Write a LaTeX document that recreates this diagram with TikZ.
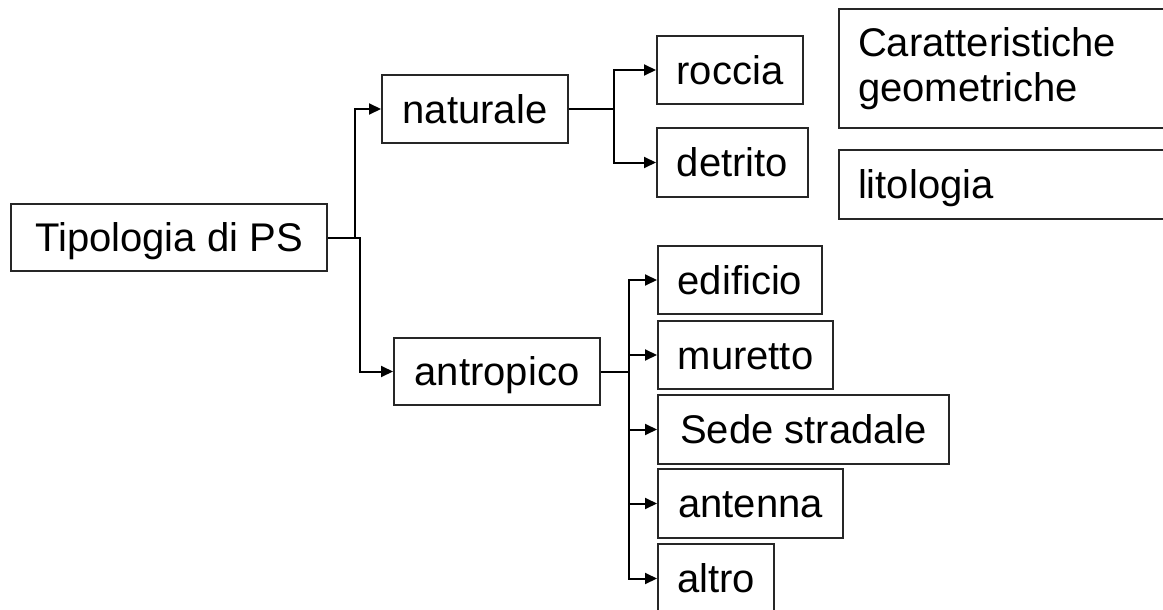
\documentclass[tikz,border=0pt]{standalone}
\usepackage{fontspec}
\setmainfont{Liberation Sans}
\usetikzlibrary{arrows.meta}
\tikzset{
  box/.style={draw=black!85, line width=2pt, fill=white, anchor=north west,
    inner sep=0pt, font=\fontsize{40}{45}\selectfont,
    text height=28.6pt, text depth=0pt},
  widebox/.style={draw=black!85, line width=2pt, fill=white, anchor=north west,
    inner xsep=19pt, inner ysep=0pt, align=left,
    font=\fontsize{40}{45}\selectfont},
  arr/.style={line width=2pt, -{Triangle[length=12pt,width=11pt]}}
}
\begin{document}
\begin{tikzpicture}[x=1pt,y=-1pt]
\fill[white] (0,0) rectangle (1163,610);
\useasboundingbox (0,0) rectangle (1163,610);
\clip (0,0) rectangle (1163,610);

\node[box, minimum width=316pt, minimum height=67pt] (T) at (10,203) {Tipologia di PS};
\node[box, minimum width=186pt, minimum height=68pt] (nat) at (381,74) {naturale};
\node[box, minimum width=206pt, minimum height=67pt] (ant) at (393,337) {antropico};

\node[box, minimum width=146pt, minimum height=68pt] (roc) at (656,35) {roccia};
\node[box, minimum width=151pt, minimum height=69pt] (det) at (656,127) {detrito};

\node[widebox, text width=299pt, minimum height=119pt] (car) at (838,8) {Caratteristiche\\geometriche};
\node[widebox, text width=299pt, minimum height=69pt, text height=28.6pt, text depth=0pt] (lit) at (838,149) {litologia};

\node[box, minimum width=164pt, minimum height=68pt] (edi) at (657,245) {edificio};
\node[box, minimum width=175pt, minimum height=68pt] (mur) at (657,320) {muretto};
\node[box, minimum width=291pt, minimum height=69pt] (sed) at (657,394) {Sede stradale};
\node[box, minimum width=185pt, minimum height=69pt] (antn) at (657,468) {antenna};
\node[box, minimum width=116pt, minimum height=69pt] (alt) at (657,543) {altro};

% connectors from Tipologia
\draw[arr] (T.east) -- ++(27,0) |- (nat.west);
\draw[arr] (T.east) -- ++(32,0) |- (ant.west);

% connectors from naturale
\draw[arr] (nat.east) -- ++(45,0) |- (roc.west);
\draw[arr] (nat.east) -- ++(45,0) |- (det.west);

% connectors from antropico
\draw[arr] (ant.east) -- ++(28,0) |- (edi.west);
\draw[arr] (ant.east) -- ++(28,0) |- (mur.west);
\draw[arr] (ant.east) -- ++(28,0) |- (sed.west);
\draw[arr] (ant.east) -- ++(28,0) |- (antn.west);
\draw[arr] (ant.east) -- ++(28,0) |- (alt.west);
\end{tikzpicture}
\end{document}
